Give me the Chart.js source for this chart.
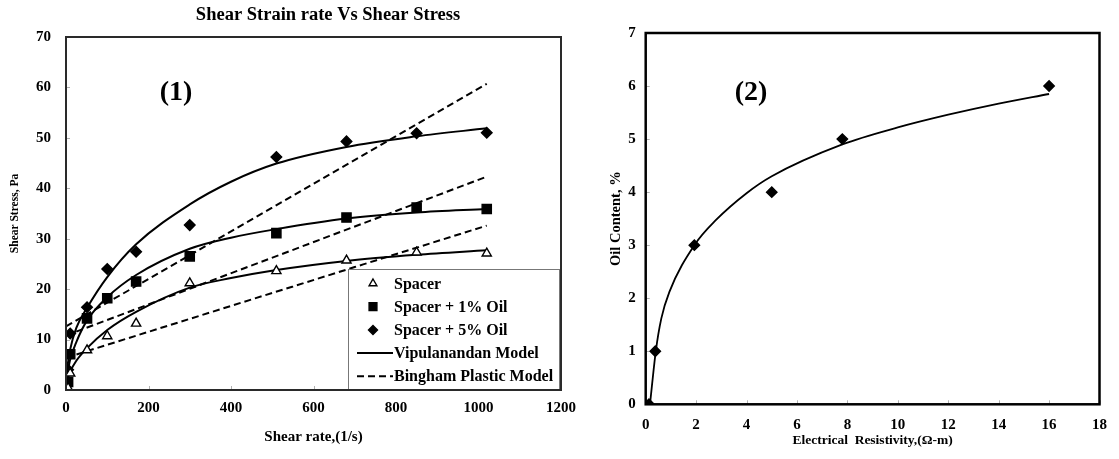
<!DOCTYPE html>
<html><head><meta charset="utf-8">
<script src="https://cdn.jsdelivr.net/npm/chart.js@4.4.1/dist/chart.umd.min.js"></script>
<style>
html,body{margin:0;padding:0;background:#fff;}
#wrap{position:relative;width:1119px;height:459px;overflow:hidden;background:#fff;}
#c1{position:absolute;left:0;top:0;width:590px;height:459px;}
#c2{position:absolute;left:575px;top:0;width:544px;height:459px;}
</style></head><body>
<div id="wrap"><canvas id="c1" width="590" height="459"></canvas><canvas id="c2" width="544" height="459"></canvas></div>
<script>
// ---------- Chart (1): shear rate vs shear stress ----------
const shearRate = [5.1, 10.2, 51, 100, 170, 300, 510, 680, 850, 1020];
const stressSpacer = [0.4, 3.3, 7.9, 10.7, 13.2, 21.2, 23.6, 25.7, 27.3, 27.1];
const stressOil1 = [1.6, 7.1, 14.2, 18.2, 21.5, 26.5, 31.1, 34.2, 36.2, 35.9];
const stressOil5 = [4.0, 11.2, 16.4, 24.0, 27.4, 32.7, 46.2, 49.3, 50.9, 51.0];

const modelRate = [0, 5, 10, 25, 51, 100, 170, 300, 400, 510, 680, 850, 1020];
const vipSpacer = [1.0, 2.4, 3.6, 5.8, 8.3, 11.9, 15.5, 20.3, 22.2, 23.8, 25.6, 26.8, 27.7];
const vipOil1 = [2.0, 4.0, 6.0, 9.5, 13.8, 18.4, 22.8, 28.0, 30.2, 31.9, 34.0, 35.2, 35.9];
const vipOil5 = [3.0, 5.5, 8.0, 12.3, 16.3, 22.4, 28.9, 36.8, 41.3, 44.9, 48.2, 50.3, 51.9];

const binghamRate = [0, 1020];
const binghamSpacer = [6.4, 32.6];
const binghamOil1 = [10.8, 42.3];
const binghamOil5 = [12.6, 60.7];

const seriesNames = ['Spacer', 'Spacer + 1% Oil', 'Spacer + 5% Oil'];
const modelNames = ['Vipulanandan Model', 'Bingham Plastic Model'];
const shearTicks = [0, 200, 400, 600, 800, 1000, 1200];
const stressTicks = [0, 10, 20, 30, 40, 50, 60, 70];

// ---------- Chart (2): resistivity vs oil content ----------
const resistivity = [0.13, 0.38, 1.93, 5.0, 7.8, 16.0];
const oilContent = [0, 1, 3, 4, 5, 6];
const fitResistivity = [0.17, 0.4, 0.62, 0.94, 1.93, 2.8, 4.0, 5.0, 7.8, 10, 12, 14, 16];
const fitOil = [0, 1.0, 1.62, 2.12, 3.0, 3.48, 3.98, 4.3, 4.9, 5.22, 5.46, 5.67, 5.85];
const resTicks = [0, 2, 4, 6, 8, 10, 12, 14, 16, 18];
const oilTicks = [0, 1, 2, 3, 4, 5, 6, 7];

const FONT = "'Liberation Serif', 'Times New Roman', serif";
Chart.defaults.font.family = FONT;
Chart.defaults.font.weight = 'bold';
Chart.defaults.color = '#000';

const pts = (xs, ys) => xs.map((x, i) => ({x: x, y: ys[i]}));
const plain = v => String(v);

function drawMarker(ctx, style, r, x, y) {
  if (Chart.helpers && Chart.helpers.drawPoint) {
    Chart.helpers.drawPoint(ctx, {pointStyle: style, radius: r, rotation: 0, borderWidth: ctx.lineWidth}, x, y);
    return;
  }
  ctx.beginPath();
  if (style === 'triangle') {
    for (let k = 0; k < 3; k++) { const a = k * 2 * Math.PI / 3; ctx.lineTo(x + Math.sin(a) * r, y - Math.cos(a) * r); }
  } else if (style === 'rect') {
    const s = r * Math.SQRT1_2; ctx.rect(x - s, y - s, 2 * s, 2 * s);
  } else {
    ctx.moveTo(x, y - r); ctx.lineTo(x + r, y); ctx.lineTo(x, y + r); ctx.lineTo(x - r, y);
  }
  ctx.closePath(); ctx.fill(); ctx.stroke();
}

const frameTicks = {
  id: 'frameTicks',
  beforeDatasetsDraw(chart, args, o) {
    const {ctx, chartArea: a, scales: {x, y}} = chart;
    ctx.save(); ctx.strokeStyle = o.tickColor; ctx.lineWidth = 1; ctx.beginPath();
    x.ticks.forEach(t => { const px = Math.round(x.getPixelForValue(t.value)) + 0.5; ctx.moveTo(px, a.bottom); ctx.lineTo(px, a.bottom - o.tickLen); });
    y.ticks.forEach(t => { const py = Math.round(y.getPixelForValue(t.value)) + 0.5; ctx.moveTo(a.left, py); ctx.lineTo(a.left + o.tickLen, py); });
    ctx.stroke(); ctx.restore();
  },
  afterDraw(chart, args, o) {
    const {ctx, chartArea: a} = chart;
    ctx.save(); ctx.strokeStyle = o.color; ctx.lineWidth = o.width;
    ctx.strokeRect(a.left, a.top, a.right - a.left, a.bottom - a.top);
    ctx.restore();
  }
};

const textLabels = {
  id: 'textLabels',
  afterDraw(chart, args, o) {
    const ctx = chart.ctx; ctx.save(); ctx.fillStyle = '#000'; ctx.textAlign = 'center'; ctx.textBaseline = 'middle';
    (o.items || []).forEach(it => { ctx.font = 'bold ' + it.size + 'px ' + FONT; ctx.fillText(it.text, it.x, it.y); });
    ctx.restore();
  }
};

const boxLegend = {
  id: 'boxLegend',
  afterDatasetsDraw(chart, args, o) {
    if (!o.entries) return;
    const ctx = chart.ctx; ctx.save();
    ctx.fillStyle = '#fff'; ctx.fillRect(o.left, o.top, o.width, o.height);
    ctx.strokeStyle = o.borderColor; ctx.lineWidth = 1; ctx.strokeRect(o.left + 0.5, o.top + 0.5, o.width, o.height);
    o.entries.forEach((e, i) => {
      const cy = o.top + o.firstRow + i * o.rowGap;
      const ds = chart.data.datasets[e.dataset];
      ctx.save();
      if (e.kind === 'marker') {
        ctx.fillStyle = ds.pointBackgroundColor; ctx.strokeStyle = ds.pointBorderColor; ctx.lineWidth = ds.pointBorderWidth;
        drawMarker(ctx, ds.pointStyle, ds.pointRadius * o.markerScale, o.markerX, cy);
      } else {
        ctx.setLineDash(ds.borderDash || []); ctx.lineWidth = ds.borderWidth; ctx.strokeStyle = ds.borderColor;
        ctx.beginPath(); ctx.moveTo(o.lineX0, cy); ctx.lineTo(o.lineX1, cy); ctx.stroke();
      }
      ctx.restore();
      ctx.fillStyle = '#000'; ctx.font = 'bold ' + o.fontSize + 'px ' + FONT; ctx.textAlign = 'left'; ctx.textBaseline = 'middle';
      ctx.fillText(e.text, o.textX, cy + 1);
    });
    ctx.restore();
  }
};

const markerDs = (label, xs, ys, style, r, fill) => ({
  label: label, data: pts(xs, ys), showLine: false, pointStyle: style, pointRadius: r,
  pointBackgroundColor: fill, pointBorderColor: '#000', pointBorderWidth: 1.4, pointHoverRadius: r
});
const lineDs = (label, xs, ys, dash, w) => ({
  label: label, data: pts(xs, ys), showLine: true, pointRadius: 0, borderColor: '#000', borderWidth: w,
  borderDash: dash, fill: false, cubicInterpolationMode: 'monotone'
});

new Chart(document.getElementById('c1'), {
  type: 'scatter',
  data: {
    datasets: [
      markerDs(seriesNames[0], shearRate, stressSpacer, 'triangle', 5.3, '#fff'),
      markerDs(seriesNames[1], shearRate, stressOil1, 'rect', 6.5, '#000'),
      markerDs(seriesNames[2], shearRate, stressOil5, 'rectRot', 5.3, '#000'),
      lineDs(modelNames[0] + ' - ' + seriesNames[0], modelRate, vipSpacer, [], 2),
      lineDs(modelNames[0] + ' - ' + seriesNames[1], modelRate, vipOil1, [], 2),
      lineDs(modelNames[0] + ' - ' + seriesNames[2], modelRate, vipOil5, [], 2),
      lineDs(modelNames[1] + ' - ' + seriesNames[0], binghamRate, binghamSpacer, [7, 4], 2),
      lineDs(modelNames[1] + ' - ' + seriesNames[1], binghamRate, binghamOil1, [7, 4], 2),
      lineDs(modelNames[1] + ' - ' + seriesNames[2], binghamRate, binghamOil5, [7, 4], 2)
    ]
  },
  options: {
    responsive: false, animation: false, events: [],
    layout: {padding: {left: 8, right: 29, top: 37, bottom: 6}},
    plugins: {
      legend: {display: false}, tooltip: {enabled: false},
      frameTicks: {color: '#2a2a2a', width: 2, tickColor: '#b0b0b0', tickLen: 4},
      textLabels: {items: [
        {text: 'Shear Strain rate Vs Shear Stress', x: 328, y: 15, size: 18.5},
        {text: '(1)', x: 176, y: 93, size: 28}
      ]},
      boxLegend: {
        left: 348, top: 269, width: 211, height: 121, borderColor: '#777',
        firstRow: 14.5, rowGap: 23.2, markerX: 373, markerScale: 0.85, lineX0: 357, lineX1: 393, textX: 394, fontSize: 16,
        entries: [
          {kind: 'marker', dataset: 0, text: seriesNames[0]},
          {kind: 'marker', dataset: 1, text: seriesNames[1]},
          {kind: 'marker', dataset: 2, text: seriesNames[2]},
          {kind: 'line', dataset: 3, text: modelNames[0]},
          {kind: 'line', dataset: 6, text: modelNames[1]}
        ]
      }
    },
    scales: {
      x: {
        type: 'linear', min: shearTicks[0], max: shearTicks[shearTicks.length - 1],
        afterBuildTicks: s => { s.ticks = shearTicks.map(v => ({value: v})); },
        afterFit: s => { s.height = 63; },
        grid: {display: false, drawTicks: false}, border: {display: false},
        ticks: {font: {size: 15, weight: 'bold'}, padding: 9, maxRotation: 0, callback: plain},
        title: {display: true, text: 'Shear rate,(1/s)', font: {size: 15, weight: 'bold'}, padding: {top: 0, bottom: 7}}
      },
      y: {
        type: 'linear', min: stressTicks[0], max: stressTicks[stressTicks.length - 1],
        afterBuildTicks: s => { s.ticks = stressTicks.map(v => ({value: v})); },
        afterFit: s => { s.width = 58; },
        grid: {display: false, drawTicks: false}, border: {display: false},
        ticks: {font: {size: 15, weight: 'bold'}, padding: 15, callback: plain},
        title: {display: true, text: 'Shear Stress, Pa', font: {size: 11.5, weight: 'bold'}, padding: {top: 0, bottom: 0}}
      }
    }
  },
  plugins: [frameTicks, textLabels, boxLegend]
});

new Chart(document.getElementById('c2'), {
  type: 'scatter',
  data: {
    datasets: [
      markerDs('Oil Content', resistivity, oilContent, 'rectRot', 5.2, '#000'),
      lineDs('Vipulanandan Model', fitResistivity, fitOil, [], 1.8)
    ]
  },
  options: {
    responsive: false, animation: false, events: [],
    layout: {padding: {left: 33, right: 8, top: 33, bottom: 4}},
    plugins: {
      legend: {display: false}, tooltip: {enabled: false},
      frameTicks: {color: '#000', width: 2.5, tickColor: '#b0b0b0', tickLen: 4},
      textLabels: {items: [{text: '(2)', x: 176, y: 93, size: 28}]}
    },
    scales: {
      x: {
        type: 'linear', min: resTicks[0], max: resTicks[resTicks.length - 1],
        afterBuildTicks: s => { s.ticks = resTicks.map(v => ({value: v})); },
        afterFit: s => { s.height = 50.7; },
        grid: {display: false, drawTicks: false}, border: {display: false},
        ticks: {font: {size: 15, weight: 'bold'}, padding: 12, maxRotation: 0, callback: plain},
        title: {display: true, text: 'Electrical  Resistivity,(Ω-m)', font: {size: 13.5, weight: 'bold'}, padding: {top: 0, bottom: 6}}
      },
      y: {
        type: 'linear', min: oilTicks[0], max: oilTicks[oilTicks.length - 1],
        afterBuildTicks: s => { s.ticks = oilTicks.map(v => ({value: v})); },
        afterFit: s => { s.width = 37.7; },
        grid: {display: false, drawTicks: false}, border: {display: false},
        ticks: {font: {size: 15, weight: 'bold'}, padding: 10, callback: plain},
        title: {display: true, text: 'Oil Content, %', font: {size: 14.5, weight: 'bold'}, padding: {top: 0, bottom: 0}}
      }
    }
  },
  plugins: [frameTicks, textLabels]
});
</script>
</body></html>
